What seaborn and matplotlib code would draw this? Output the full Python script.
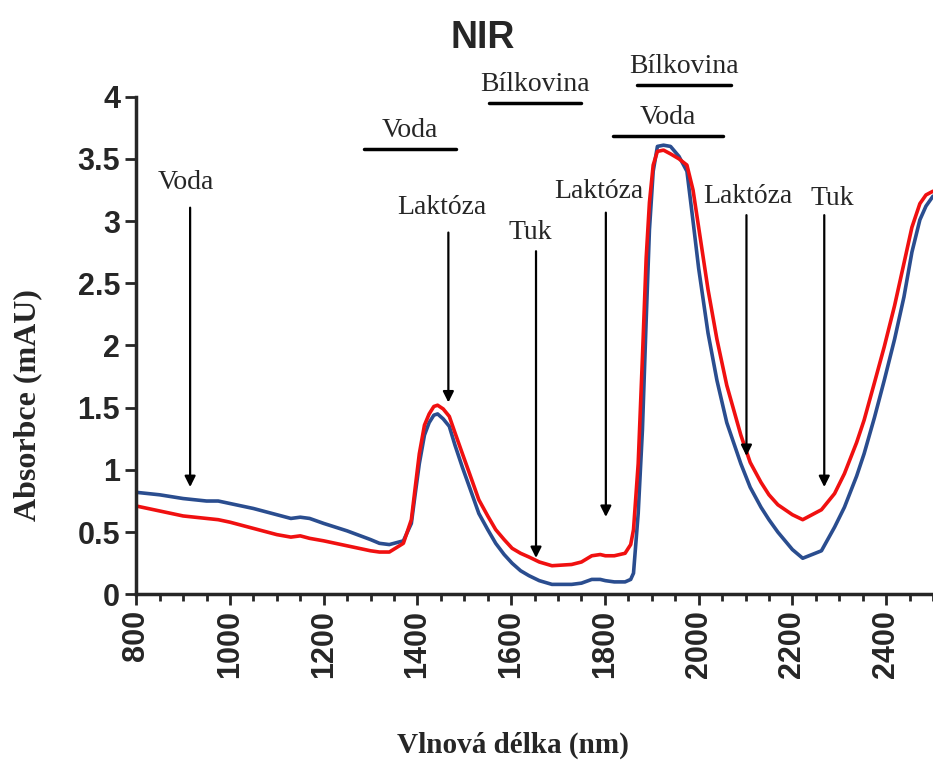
import pandas as pd
import seaborn as sns
import matplotlib.pyplot as plt
from matplotlib.ticker import MultipleLocator

# wavelength (nm) and absorbance of the two spectra
wavelength = [800, 850, 900, 950, 975, 1000, 1050, 1100, 1130, 1150, 1170, 1200,
              1250, 1300, 1319, 1340, 1370, 1387, 1395, 1404, 1415, 1425, 1435, 1443,
              1455, 1468, 1480, 1496, 1515, 1531, 1550, 1567, 1585, 1602, 1620, 1638,
              1660, 1687, 1729, 1750, 1772, 1790, 1801, 1820, 1843, 1855, 1861, 1871,
              1880, 1888, 1895, 1903, 1912, 1925, 1940, 1958,
              1975, 1988, 2000, 2020, 2039, 2060, 2090, 2110, 2133, 2150, 2169, 2200,
              2222, 2262, 2290, 2311, 2337, 2353, 2375, 2396, 2418, 2438, 2455, 2472,
              2485, 2500]
blue = [0.82, 0.80, 0.77, 0.75, 0.75, 0.73, 0.69, 0.64, 0.61, 0.62, 0.61, 0.57,
        0.51, 0.44, 0.41, 0.40, 0.43, 0.57, 0.80, 1.05, 1.28, 1.38, 1.44, 1.45,
        1.41, 1.35, 1.20, 1.02, 0.82, 0.65, 0.52, 0.41, 0.32, 0.25, 0.19, 0.15,
        0.11, 0.08, 0.08, 0.09, 0.12, 0.12, 0.11, 0.10, 0.10, 0.12, 0.17, 0.65,
        1.32, 2.20, 2.93, 3.40, 3.60, 3.61, 3.60, 3.52,
        3.40, 3.00, 2.62, 2.10, 1.72, 1.38, 1.05, 0.86, 0.70, 0.60, 0.50, 0.36,
        0.29, 0.35, 0.54, 0.70, 0.95, 1.13, 1.42, 1.72, 2.05, 2.39, 2.75, 3.01,
        3.12, 3.20]
red = [0.71, 0.67, 0.63, 0.61, 0.60, 0.58, 0.53, 0.48, 0.46, 0.47, 0.45, 0.43,
       0.39, 0.35, 0.34, 0.34, 0.41, 0.60, 0.85, 1.13, 1.36, 1.45, 1.51, 1.52,
       1.49, 1.43, 1.30, 1.13, 0.93, 0.76, 0.63, 0.52, 0.44, 0.37, 0.33, 0.30,
       0.26, 0.23, 0.24, 0.26, 0.31, 0.32, 0.31, 0.31, 0.33, 0.40, 0.52, 1.05,
       1.90, 2.70, 3.15, 3.45, 3.56, 3.57, 3.54, 3.50,
       3.45, 3.25, 2.95, 2.45, 2.05, 1.68, 1.28, 1.06, 0.90, 0.80, 0.72, 0.64,
       0.60, 0.68, 0.81, 0.97, 1.22, 1.40, 1.70, 1.99, 2.32, 2.66, 2.95, 3.14,
       3.21, 3.24]

y_ticks = [0, 0.5, 1, 1.5, 2, 2.5, 3, 3.5, 4]
y_ticklabels = ["0", "0.5", "1", "1.5", "2", "2.5", "3", "3.5", "4"]

# vertical arrows: label, wavelength, arrow start, arrow end, label position
arrow_labels = ["Voda", "Laktóza", "Tuk", "Laktóza", "Laktóza", "Tuk"]
arrow_x = [915, 1466, 1653, 1802, 2102, 2268]
arrow_top = [3.13, 2.93, 2.78, 3.09, 3.07, 3.07]
arrow_bottom = [0.84, 1.52, 0.27, 0.60, 1.09, 0.84]
arrow_text_x = [905, 1452, 1640, 1788, 2104, 2285]
arrow_text_y = [3.21, 3.01, 2.81, 3.14, 3.10, 3.08]

# horizontal bands: label, start, end, level
band_labels = ["Voda", "Bílkovina", "Bílkovina", "Voda"]
band_start = [1285, 1553, 1868, 1817]
band_end = [1483, 1749, 2068, 2051]
band_y = [3.58, 3.95, 4.09, 3.68]

sns.set_style("ticks")
plt.rcParams['font.family'] = ['Liberation Sans', 'DejaVu Sans']

fig, ax = plt.subplots(figsize=(9.33, 7.61), dpi=100)
fig.subplots_adjust(left=0.146, right=1.0, bottom=0.219, top=0.873)

sns.lineplot(x=wavelength, y=blue, color='#2a4d8f', linewidth=2.6, ax=ax)
sns.lineplot(x=wavelength, y=red, color='#f01010', linewidth=2.6, ax=ax)

ax.set_xlim(800, 2500)
ax.set_ylim(0, 4)
ax.set_xticks(range(800, 2401, 200))
ax.xaxis.set_minor_locator(MultipleLocator(50))
ax.set_yticks(y_ticks)
ax.set_yticklabels(y_ticklabels)
ax.tick_params(axis='x', rotation=90, labelsize=22, width=2, length=8, direction='out')
ax.tick_params(axis='x', which='minor', width=2, length=5)
ax.tick_params(axis='y', labelsize=22, width=2, length=8, direction='out')
for lbl in ax.get_xticklabels() + ax.get_yticklabels():
    lbl.set_fontweight('bold')
sns.despine(ax=ax)
ax.spines['left'].set_linewidth(2.5)
ax.spines['bottom'].set_linewidth(2.5)

serif = ['Liberation Serif', 'DejaVu Serif']
ax.set_xlabel("Vlnová délka (nm)", family=serif, fontweight='bold', fontsize=21)
ax.xaxis.set_label_coords(0.473, -0.275)
ax.set_ylabel("Absorbce (mAU)", family=serif, fontweight='bold', fontsize=23)
ax.yaxis.set_label_coords(-0.118, 0.38)
ax.set_title("NIR", fontweight='bold', fontsize=27, pad=35, x=0.435)

for lab, x, top, bot, tx, ty in zip(arrow_labels, arrow_x, arrow_top, arrow_bottom,
                                    arrow_text_x, arrow_text_y):
    ax.annotate("", xy=(x, bot), xytext=(x, top),
                arrowprops=dict(arrowstyle='-|>', color='black', lw=1.6, mutation_scale=16))
    ax.text(tx, ty, lab, ha='center', va='bottom', fontsize=20, family=serif)

for lab, x0, x1, y in zip(band_labels, band_start, band_end, band_y):
    ax.plot([x0, x1], [y, y], color='black', lw=2.5, clip_on=False)
    ax.text((x0 + x1) / 2, y + 0.05, lab, ha='center', va='bottom', fontsize=20,
            family=serif, clip_on=False)

plt.savefig("out.png", dpi=100)
